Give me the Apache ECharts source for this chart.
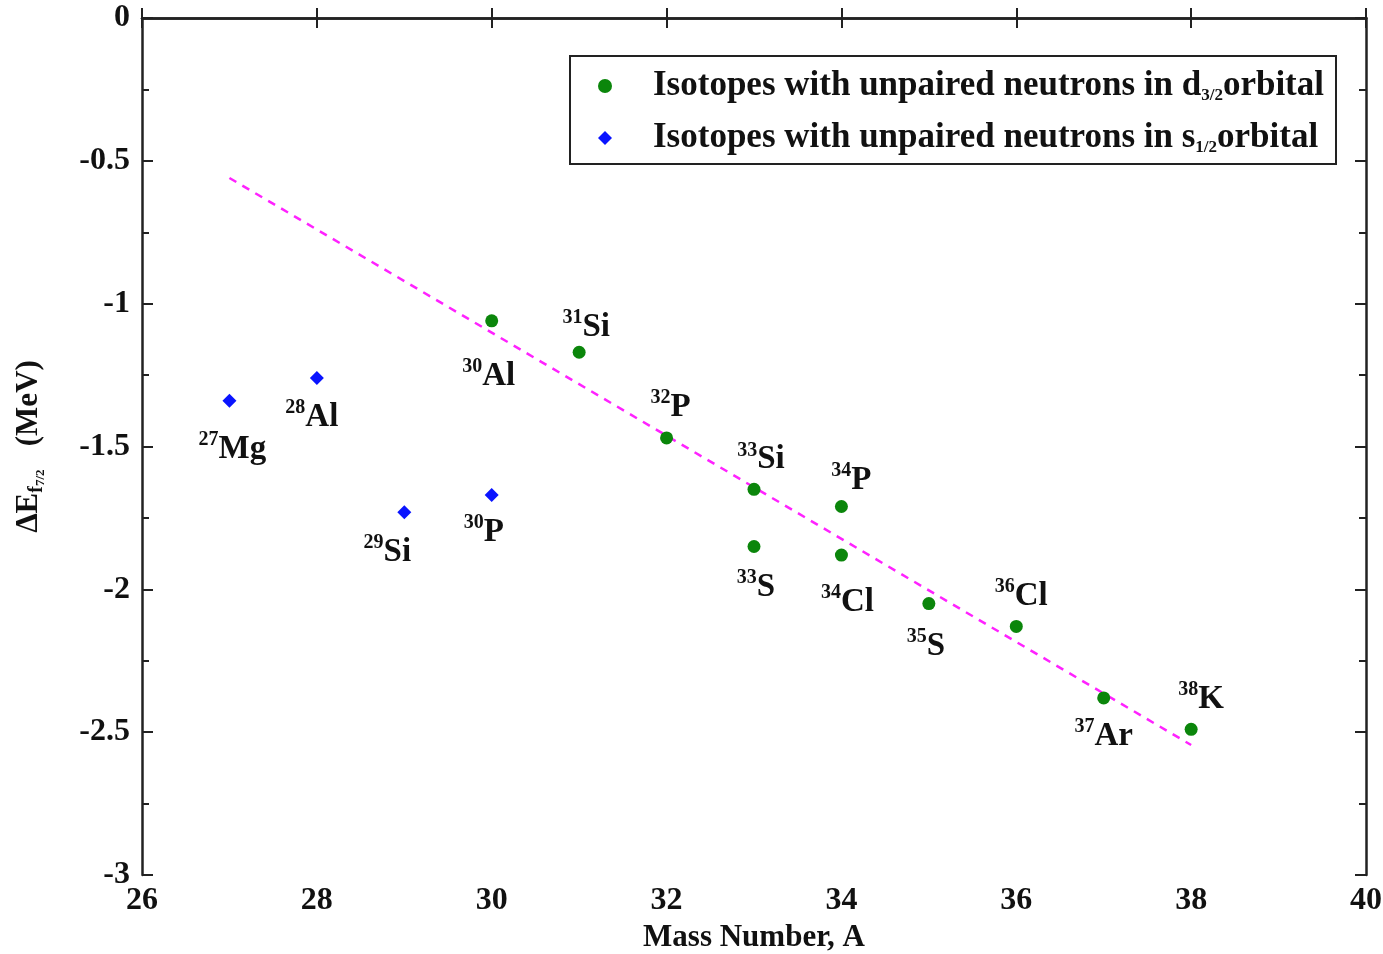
<!DOCTYPE html>
<html>
<head>
<meta charset="utf-8">
<script src="https://cdn.jsdelivr.net/npm/echarts@6/dist/echarts.min.js"></script>
<style>
  html, body { margin: 0; padding: 0; background: #fff; }
  #chart { width: 1383px; height: 954px; }
</style>
</head>
<body>
<div id="chart"></div>
<script>
// d3/2 isotopes
const dMass = [30, 31, 32, 33, 33, 34, 34, 35, 36, 37, 38];
const dEnergy = [-1.06, -1.17, -1.47, -1.65, -1.85, -1.71, -1.88, -2.05, -2.13, -2.38, -2.49];
const dSymbol = ['Al', 'Si', 'P', 'Si', 'S', 'P', 'Cl', 'S', 'Cl', 'Ar', 'K'];

// s1/2 isotopes
const sMass = [27, 28, 29, 30];
const sEnergy = [-1.34, -1.26, -1.73, -1.67];
const sSymbol = ['Mg', 'Al', 'Si', 'P'];

// dashed fit line ends
const fitMass = [27, 38];
const fitEnergy = [-0.56, -2.545];

const xTicks = [26, 28, 30, 32, 34, 36, 38, 40];
const yTicks = [0, -0.5, -1, -1.5, -2, -2.5, -3];

// label placement (px offset from marker), layout only
const dLabelOffset = [[-3, 54], [7, -26], [4, -32], [7, -31], [2, 39], [10, -28], [6, 46], [-3, 41], [5, -32], [0, 37], [10, -31]];
const sLabelOffset = [[3, 47], [-5, 38], [-17, 39], [-8, 36]];

const serif = '"Liberation Serif", "DejaVu Serif", serif';

const isoRich = {
  m: { fontFamily: serif, fontWeight: 'bold', fontSize: 20, color: '#111', verticalAlign: 'top', lineHeight: 36 },
  s: { fontFamily: serif, fontWeight: 'bold', fontSize: 33, color: '#111', verticalAlign: 'bottom', lineHeight: 36, padding: [18, 0, 0, 0] }
};

function buildPoints(mass, energy, symbol, offsets) {
  return mass.map((a, i) => ({
    value: [a, energy[i]],
    label: {
      show: true,
      position: 'inside',
      offset: offsets[i],
      formatter: '{m|' + a + '}{s|' + symbol[i] + '}',
      rich: isoRich
    }
  }));
}

const chart = echarts.init(document.getElementById('chart'));

const axisColor = '#222';
const tickFont = { fontFamily: serif, fontWeight: 'bold', fontSize: 32, color: '#111' };

const option = {
  animation: false,
  grid: { left: 142, right: 17, top: 18, bottom: 79, containLabel: false, outerBoundsMode: 'none' },
  legend: {
    left: 570,
    top: 56,
    orient: 'vertical',
    data: ['d', 's'],
    backgroundColor: '#fff',
    borderColor: '#222',
    borderWidth: 2,
    borderRadius: 0,
    padding: [7, 12, 8, 28],
    itemGap: 11,
    itemWidth: 14,
    itemHeight: 14,
    formatter: function (name) {
      if (name === 'd') return '{sp| }{t|Isotopes with unpaired neutrons in d}{sub|3/2}{t|orbital}';
      return '{sp| }{t|Isotopes with unpaired neutrons in s}{sub|1/2}{t|orbital}';
    },
    textStyle: {
      rich: {
        sp: { width: 36, lineHeight: 36 },
        t: { fontFamily: serif, fontWeight: 'bold', fontSize: 35, color: '#111', lineHeight: 36 },
        sub: { fontFamily: serif, fontWeight: 'bold', fontSize: 17, color: '#111', lineHeight: 36, verticalAlign: 'bottom', padding: [24, 0, 0, 0] }
      }
    }
  },
  xAxis: [
    {
      type: 'value', min: 26, max: 40, interval: 2,
      name: 'Mass Number, A',
      nameLocation: 'middle',
      nameGap: 47,
      nameTextStyle: { fontFamily: serif, fontWeight: 'bold', fontSize: 31, color: '#111' },
      axisLine: { show: true, lineStyle: { color: axisColor, width: 2.5 } },
      axisTick: { show: true, inside: true, length: 10, lineStyle: { color: axisColor, width: 2 } },
      axisLabel: Object.assign({ margin: 10, formatter: v => xTicks.includes(v) ? String(v) : '' }, tickFont),
      splitLine: { show: false }
    },
    {
      type: 'value', min: 26, max: 40, interval: 2, position: 'top',
      axisLine: { show: true, lineStyle: { color: axisColor, width: 2.5 } },
      axisTick: { show: true, inside: true, length: 10, lineStyle: { color: axisColor, width: 2 } },
      axisLabel: { show: false },
      splitLine: { show: false }
    }
  ],
  yAxis: [
    {
      type: 'value', min: -3, max: 0, interval: 0.5,
      name: '{t|ΔE}{sub|f}{sub2|7/2}{t|   (MeV)}',
      nameLocation: 'middle',
      nameRotate: 90,
      nameGap: 95,
      nameTextStyle: {
        rich: {
          t: { fontFamily: serif, fontWeight: 'bold', fontSize: 31, color: '#111', lineHeight: 36 },
          sub: { fontFamily: serif, fontWeight: 'bold', fontSize: 20, color: '#111', lineHeight: 36, verticalAlign: 'bottom', padding: [16, 0, 0, 0] },
          sub2: { fontFamily: serif, fontWeight: 'bold', fontSize: 13, color: '#111', lineHeight: 36, verticalAlign: 'bottom', padding: [24, 0, 0, 0] }
        }
      },
      axisLine: { show: true, lineStyle: { color: axisColor, width: 2.5 } },
      axisTick: { show: true, inside: true, length: 11, lineStyle: { color: axisColor, width: 2 } },
      minorTick: { show: true, splitNumber: 2, length: 7, lineStyle: { color: axisColor, width: 2 } },
      axisLabel: Object.assign({ margin: 12, formatter: v => yTicks.includes(v) ? String(v) : '' }, tickFont),
      splitLine: { show: false }
    },
    {
      type: 'value', min: -3, max: 0, interval: 0.5, position: 'right',
      axisLine: { show: true, lineStyle: { color: axisColor, width: 2.5 } },
      axisTick: { show: true, inside: true, length: 11, lineStyle: { color: axisColor, width: 2 } },
      minorTick: { show: true, splitNumber: 2, length: 7, lineStyle: { color: axisColor, width: 2 } },
      axisLabel: { show: false },
      splitLine: { show: false }
    }
  ],
  series: [
    {
      name: 'fit',
      type: 'line',
      data: fitMass.map((a, i) => [a, fitEnergy[i]]),
      symbol: 'none',
      lineStyle: { color: '#ff22ff', width: 2.5, type: [8, 7] },
      silent: true,
      z: 1
    },
    {
      name: 'd',
      type: 'scatter',
      symbol: 'circle',
      symbolSize: 13,
      itemStyle: { color: '#0b860b', opacity: 1 },
      data: buildPoints(dMass, dEnergy, dSymbol, dLabelOffset),
      z: 3
    },
    {
      name: 's',
      type: 'scatter',
      symbol: 'diamond',
      symbolSize: 14,
      itemStyle: { color: '#0a14ff', opacity: 1 },
      data: buildPoints(sMass, sEnergy, sSymbol, sLabelOffset),
      z: 3
    }
  ]
};

chart.setOption(option);
</script>
</body>
</html>
